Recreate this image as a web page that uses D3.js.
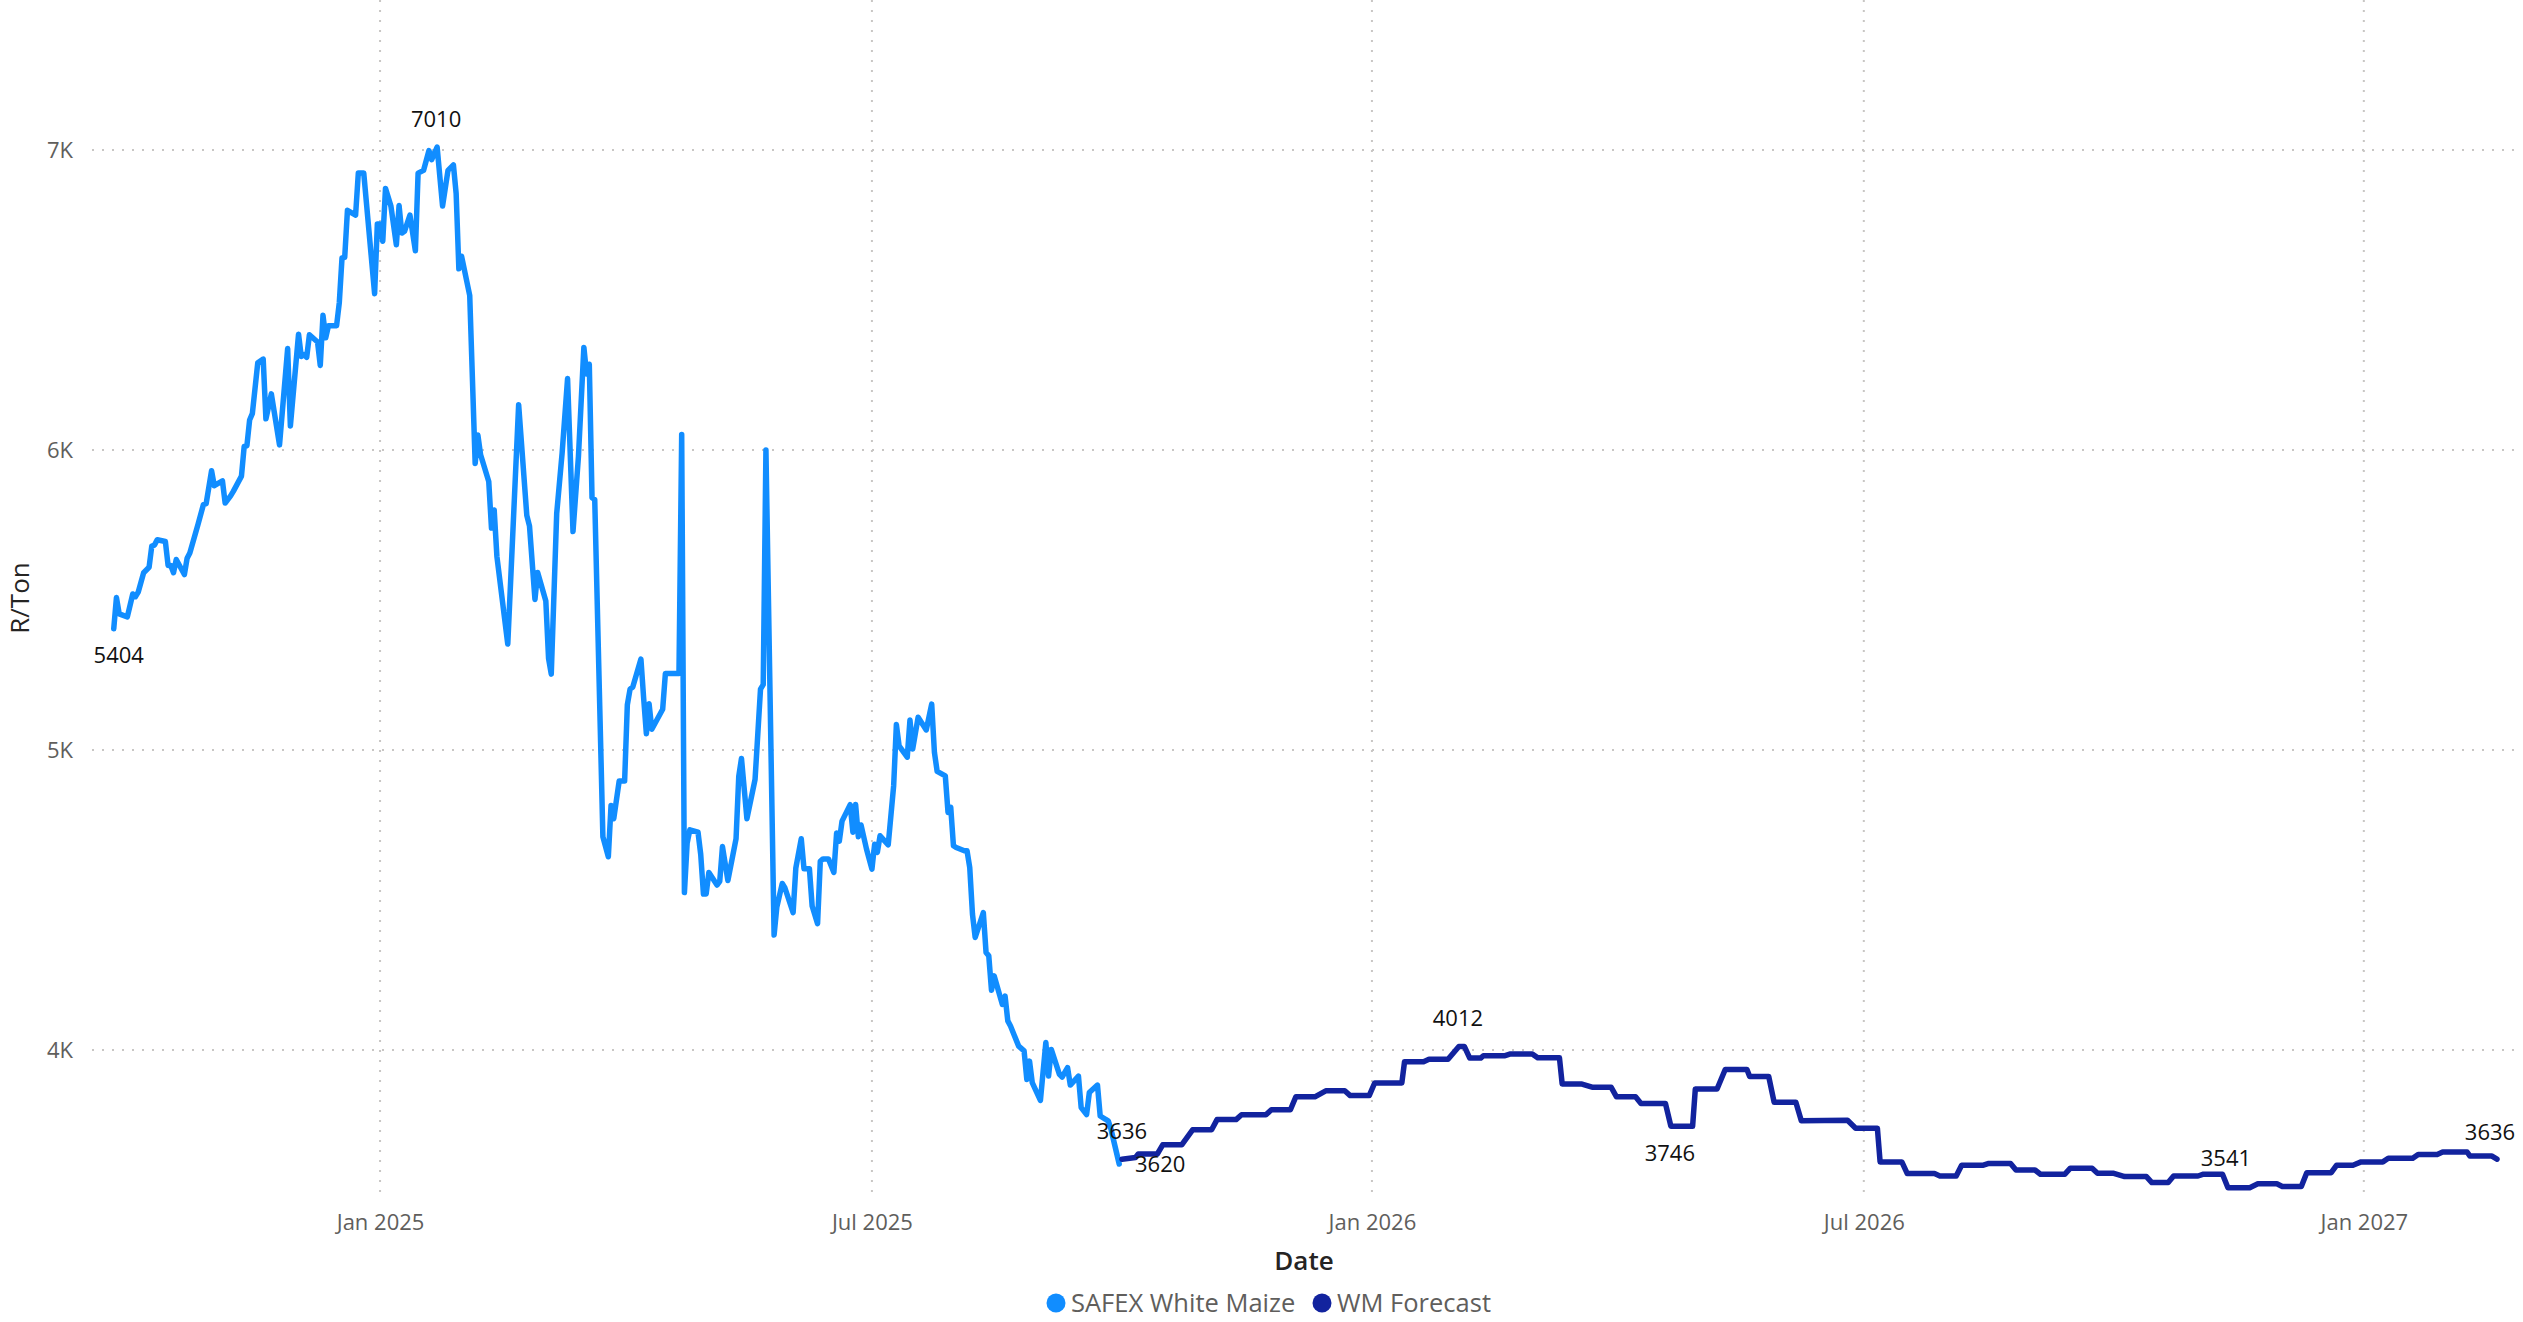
<!DOCTYPE html>
<html>
<head>
<meta charset="utf-8">
<script src="https://cdn.jsdelivr.net/npm/d3@7"></script>
<style>
  html, body { margin: 0; padding: 0; background: #ffffff; }
  svg { display: block; }
  text { font-family: 'Segoe UI', 'Open Sans', sans-serif; }
</style>
</head>
<body>
<svg id="chart" width="2523" height="1322"></svg>
<script>
// ---------------- DATA ----------------
const seriesNames = ["SAFEX White Maize", "WM Forecast"];
const seriesColors = ["#118DFF", "#12239E"];

const yTicks = [4000, 5000, 6000, 7000];
const xTicks = ["2025-01-01", "2025-07-01", "2026-01-01", "2026-07-01", "2027-01-01"];
const xDomain = ["2024-09-17", "2027-02-26"];
const yDomain = [3500, 7500];

const safex = [
 ["2024-09-25",5404],["2024-09-26",5508],["2024-09-27",5454],["2024-09-30",5444],["2024-10-02",5520],
 ["2024-10-03",5511],["2024-10-04",5526],["2024-10-06",5591],["2024-10-08",5609],["2024-10-09",5680],
 ["2024-10-10",5683],["2024-10-11",5701],["2024-10-14",5695],["2024-10-15",5615],["2024-10-16",5615],
 ["2024-10-17",5591],["2024-10-18",5635],["2024-10-21",5585],["2024-10-22",5639],["2024-10-23",5657],
 ["2024-10-26",5752],["2024-10-28",5818],["2024-10-29",5821],["2024-10-31",5931],["2024-11-01",5881],
 ["2024-11-04",5897],["2024-11-05",5823],["2024-11-07",5847],["2024-11-08",5862],["2024-11-11",5913],
 ["2024-11-12",6012],["2024-11-13",6014],["2024-11-14",6100],["2024-11-15",6121],["2024-11-17",6291],
 ["2024-11-19",6303],["2024-11-20",6104],["2024-11-22",6187],["2024-11-25",6017],["2024-11-28",6338],
 ["2024-11-29",6080],["2024-12-02",6386],["2024-12-03",6312],["2024-12-04",6318],["2024-12-05",6309],
 ["2024-12-06",6384],["2024-12-09",6360],["2024-12-10",6282],["2024-12-11",6449],["2024-12-12",6374],
 ["2024-12-13",6414],["2024-12-16",6414],["2024-12-17",6491],["2024-12-18",6640],["2024-12-19",6642],
 ["2024-12-20",6799],["2024-12-23",6783],["2024-12-24",6923],["2024-12-26",6923],["2024-12-30",6521],
 ["2024-12-31",6753],["2025-01-01",6753],["2025-01-02",6696],["2025-01-03",6872],["2025-01-05",6813],
 ["2025-01-07",6684],["2025-01-08",6815],["2025-01-09",6723],["2025-01-10",6729],["2025-01-12",6783],
 ["2025-01-14",6664],["2025-01-15",6923],["2025-01-17",6932],["2025-01-19",6998],["2025-01-20",6968],
 ["2025-01-22",7010],["2025-01-24",6813],["2025-01-26",6932],["2025-01-28",6950],["2025-01-29",6855],
 ["2025-01-30",6604],["2025-01-31",6646],["2025-02-03",6515],["2025-02-05",5955],["2025-02-06",6050],
 ["2025-02-07",5984],["2025-02-10",5895],["2025-02-11",5740],["2025-02-12",5800],["2025-02-13",5645],
 ["2025-02-17",5353],["2025-02-21",6151],["2025-02-24",5782],["2025-02-25",5746],["2025-02-27",5502],
 ["2025-02-28",5592],["2025-03-03",5497],["2025-03-04",5306],["2025-03-05",5253],["2025-03-07",5788],
 ["2025-03-09",5990],["2025-03-11",6238],["2025-03-13",5728],["2025-03-15",5978],["2025-03-17",6342],
 ["2025-03-18",6253],["2025-03-19",6286],["2025-03-20",5841],["2025-03-21",5835],["2025-03-24",4711],
 ["2025-03-26",4644],["2025-03-27",4815],["2025-03-28",4771],["2025-03-30",4897],["2025-04-01",4897],
 ["2025-04-02",5151],["2025-04-03",5203],["2025-04-04",5210],["2025-04-07",5303],["2025-04-08",5173],
 ["2025-04-09",5054],["2025-04-10",5154],["2025-04-11",5069],["2025-04-15",5136],["2025-04-16",5255],
 ["2025-04-21",5255],["2025-04-22",6052],["2025-04-23",4525],["2025-04-24",4689],["2025-04-25",4734],
 ["2025-04-28",4726],["2025-04-29",4652],["2025-04-30",4520],["2025-05-01",4520],["2025-05-02",4592],
 ["2025-05-05",4550],["2025-05-06",4562],["2025-05-07",4678],["2025-05-09",4565],["2025-05-12",4704],
 ["2025-05-13",4912],["2025-05-14",4972],["2025-05-16",4771],["2025-05-19",4902],["2025-05-21",5203],
 ["2025-05-22",5218],["2025-05-23",6000],["2025-05-26",4383],["2025-05-27",4476],["2025-05-29",4555],
 ["2025-05-30",4540],["2025-06-02",4458],["2025-06-03",4607],["2025-06-05",4704],["2025-06-06",4604],
 ["2025-06-08",4604],["2025-06-09",4480],["2025-06-11",4421],["2025-06-12",4629],["2025-06-13",4637],
 ["2025-06-15",4637],["2025-06-17",4592],["2025-06-18",4723],["2025-06-19",4696],["2025-06-20",4763],
 ["2025-06-23",4818],["2025-06-24",4726],["2025-06-25",4818],["2025-06-26",4711],["2025-06-27",4750],
 ["2025-06-29",4670],["2025-07-01",4603],["2025-07-02",4686],["2025-07-03",4659],["2025-07-04",4714],
 ["2025-07-07",4684],["2025-07-09",4881],["2025-07-10",5085],["2025-07-11",5014],["2025-07-14",4976],
 ["2025-07-15",5100],["2025-07-16",5003],["2025-07-18",5109],["2025-07-21",5067],["2025-07-23",5153],
 ["2025-07-24",4992],["2025-07-25",4929],["2025-07-28",4914],["2025-07-29",4792],["2025-07-30",4809],
 ["2025-07-31",4681],["2025-08-01",4675],["2025-08-04",4664],["2025-08-05",4664],["2025-08-06",4608],
 ["2025-08-07",4453],["2025-08-08",4375],["2025-08-11",4458],["2025-08-12",4325],["2025-08-13",4314],
 ["2025-08-14",4199],["2025-08-15",4247],["2025-08-18",4152],["2025-08-19",4180],["2025-08-20",4097],
 ["2025-08-21",4080],["2025-08-24",4013],["2025-08-26",3997],["2025-08-27",3902],["2025-08-28",3963],
 ["2025-08-29",3891],["2025-09-01",3832],["2025-09-03",4025],["2025-09-04",3913],["2025-09-05",4002],
 ["2025-09-08",3919],["2025-09-09",3910],["2025-09-11",3941],["2025-09-12",3883],["2025-09-15",3913],
 ["2025-09-16",3808],["2025-09-18",3785],["2025-09-19",3858],["2025-09-22",3883],["2025-09-23",3780],
 ["2025-09-25",3769],["2025-09-26",3763],["2025-09-27",3735],["2025-09-30",3620]
];

const forecast = [
 ["2025-10-01",3636],["2025-10-06",3642],["2025-10-07",3653],["2025-10-14",3653],["2025-10-16",3684],
 ["2025-10-23",3684],["2025-10-27",3734],["2025-11-03",3734],["2025-11-05",3768],["2025-11-12",3768],
 ["2025-11-14",3784],["2025-11-23",3784],["2025-11-25",3801],["2025-12-02",3801],["2025-12-04",3844],
 ["2025-12-11",3844],["2025-12-15",3864],["2025-12-22",3864],["2025-12-24",3848],["2025-12-31",3848],
 ["2026-01-02",3890],["2026-01-12",3890],["2026-01-13",3961],["2026-01-20",3961],["2026-01-22",3969],
 ["2026-01-29",3969],["2026-02-02",4012],["2026-02-04",4012],["2026-02-06",3973],["2026-02-10",3973],
 ["2026-02-11",3981],["2026-02-19",3981],["2026-02-21",3987],["2026-03-01",3987],["2026-03-03",3974],
 ["2026-03-11",3974],["2026-03-12",3887],["2026-03-19",3887],["2026-03-23",3876],["2026-03-30",3876],
 ["2026-04-01",3844],["2026-04-08",3844],["2026-04-10",3822],["2026-04-19",3822],["2026-04-21",3746],
 ["2026-04-29",3746],["2026-04-30",3870],["2026-05-08",3870],["2026-05-11",3935],["2026-05-19",3935],
 ["2026-05-20",3912],["2026-05-27",3912],["2026-05-29",3826],["2026-06-06",3826],["2026-06-08",3764],
 ["2026-06-25",3766],["2026-06-28",3739],["2026-07-06",3739],["2026-07-07",3627],["2026-07-15",3627],
 ["2026-07-17",3588],["2026-07-27",3588],["2026-07-29",3580],["2026-08-04",3580],["2026-08-06",3616],
 ["2026-08-14",3616],["2026-08-16",3622],["2026-08-24",3622],["2026-08-26",3600],["2026-09-02",3600],
 ["2026-09-04",3586],["2026-09-13",3586],["2026-09-15",3606],["2026-09-23",3606],["2026-09-25",3589],
 ["2026-10-01",3589],["2026-10-05",3578],["2026-10-13",3578],["2026-10-15",3558],["2026-10-21",3558],
 ["2026-10-23",3580],["2026-11-01",3580],["2026-11-03",3586],["2026-11-10",3586],["2026-11-12",3541],
 ["2026-11-20",3541],["2026-11-23",3554],["2026-11-30",3554],["2026-12-02",3545],["2026-12-09",3545],
 ["2026-12-11",3591],["2026-12-20",3591],["2026-12-22",3616],["2026-12-28",3616],["2026-12-31",3627],
 ["2027-01-08",3627],["2027-01-10",3639],["2027-01-19",3639],["2027-01-21",3652],["2027-01-28",3652],
 ["2027-01-30",3660],["2027-02-08",3660],["2027-02-09",3647],["2027-02-17",3647],["2027-02-19",3636]
];

// data labels: [series index, date, text]
const dataLabels = [
 [0, "2024-09-25", "5404"],
 [0, "2025-01-22", "7010"],
 [0, "2025-09-30", "3620"],
 [1, "2025-10-01", "3636"],
 [1, "2026-02-02", "4012"],
 [1, "2026-04-21", "3746"],
 [1, "2026-11-12", "3541"],
 [1, "2027-02-19", "3636"]
];

const yTitle = "R/Ton";
const xTitle = "Date";

// ---------------- DRAW ----------------
const parse = d3.timeParse("%Y-%m-%d");
const svg = d3.select("#chart");

const plot = { left: 92, right: 2516, top: 0, bottom: 1200 };

const x = d3.scaleTime().domain(xDomain.map(parse)).range([plot.left, plot.right]);
const y = d3.scaleLinear().domain(yDomain).range([plot.bottom, plot.top]);

const series = [safex, forecast].map(s => s.map(([d, v]) => ({ date: parse(d), value: v })));

// gridlines
const grid = svg.append("g");
grid.selectAll("line.h").data(yTicks).join("line")
  .attr("x1", plot.left).attr("x2", plot.right + 2)
  .attr("y1", d => y(d)).attr("y2", d => y(d))
  .attr("stroke", "#c8c6c4").attr("stroke-width", 2)
  .attr("stroke-dasharray", "2 8");
grid.selectAll("line.v").data(xTicks.map(parse)).join("line")
  .attr("x1", d => x(d)).attr("x2", d => x(d))
  .attr("y1", plot.top).attr("y2", plot.bottom)
  .attr("stroke", "#c8c6c4").attr("stroke-width", 2)
  .attr("stroke-dasharray", "2 8");

// y axis
const yAxis = d3.axisLeft(y).tickValues(yTicks).tickSize(0).tickPadding(0)
  .tickFormat(d => (d / 1000) + "K");
const gy = svg.append("g").attr("transform", "translate(73,0)").call(yAxis);
gy.select(".domain").remove();
gy.selectAll("text").attr("fill", "#605e5c").style("font-size", "22px")
  .attr("dy", "0.35em");

// x axis
const xAxis = d3.axisBottom(x).tickValues(xTicks.map(parse)).tickSize(0).tickPadding(0)
  .tickFormat(d3.timeFormat("%b %Y"));
const gx = svg.append("g").attr("transform", "translate(0,1230)").call(xAxis);
gx.select(".domain").remove();
gx.selectAll("text").attr("fill", "#605e5c").style("font-size", "22px").attr("dy", 0);

// axis titles
svg.append("text")
  .attr("transform", "translate(29,598) rotate(-90)")
  .attr("text-anchor", "middle")
  .attr("fill", "#252423").style("font-size", "26px").style("font-weight", "500")
  .text(yTitle);
svg.append("text")
  .attr("x", 1304).attr("y", 1270)
  .attr("text-anchor", "middle")
  .attr("fill", "#252423").style("font-size", "26px").style("font-weight", "600")
  .text(xTitle);

// lines
const line = d3.line().x(d => x(d.date)).y(d => y(d.value));
svg.append("g").selectAll("path").data(series).join("path")
  .attr("d", line)
  .attr("fill", "none")
  .attr("stroke", (d, i) => seriesColors[i])
  .attr("stroke-width", 5.5)
  .attr("stroke-linejoin", "round")
  .attr("stroke-linecap", "round");

// data labels (offset from point)
const labelOffsets = {
  "5404": [5, 26], "7010": [-1, -28], "3620": [41, 0], "4012": [-1, -28],
  "3746": [-1, 27], "3541": [-2, -29]
};
const lbl = svg.append("g");
dataLabels.forEach(([si, ds, txt], k) => {
  const pt = series[si].find(p => +p.date === +parse(ds));
  let off = labelOffsets[txt] || [0, -28];
  if (txt === "3636" && si === 1 && ds === "2027-02-19") off = [-7, -27];
  if (txt === "3636" && ds === "2025-10-01") off = [0, -28];
  lbl.append("text")
    .attr("x", x(pt.date) + off[0])
    .attr("y", y(pt.value) + off[1])
    .attr("dy", "0.35em")
    .attr("text-anchor", "middle")
    .attr("fill", "#111111")
    .style("font-size", "22px")
    .text(txt);
});

// legend
const legend = svg.append("g");
const legX = [1056, 1322];
seriesNames.forEach((name, i) => {
  legend.append("circle").attr("cx", legX[i]).attr("cy", 1303).attr("r", 9.5)
    .attr("fill", seriesColors[i]);
  legend.append("text").attr("x", legX[i] + 15).attr("y", 1303).attr("dy", "0.35em")
    .attr("fill", "#605e5c").style("font-size", "25.5px").text(name);
});
</script>
</body>
</html>
